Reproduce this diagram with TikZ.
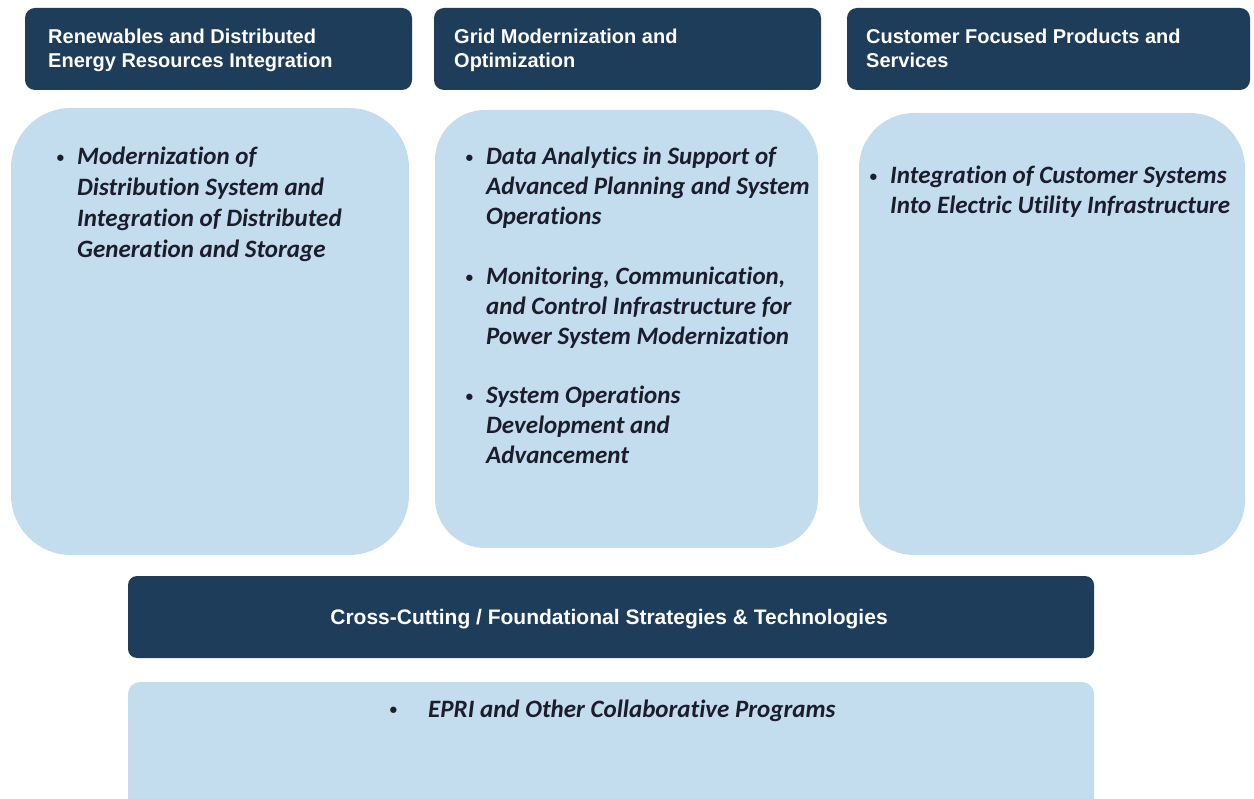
\documentclass[tikz,border=0pt]{standalone}
\usepackage{fontspec}
\setmainfont{Carlito}[Ligatures=NoCommon]
\newfontfamily\hdfont{Liberation Sans}
\definecolor{navy}{HTML}{1E3D5A}
\definecolor{pale}{HTML}{C4DDEE}
\definecolor{ink}{HTML}{1B1D2B}
\tikzset{
  hdrbox/.style={fill=navy, draw=none, rounded corners=10pt, inner sep=0pt},
  palebox/.style={fill=pale, draw=none, inner sep=0pt},
  hdrtext/.style={font=\hdfont\bfseries\fontsize{20}{24}\selectfont, text=white, align=left, inner sep=0pt, anchor=base west},
  itemtext/.style={font=\bfseries\itshape\fontsize{25}{30}\selectfont, text=ink, align=left, inner sep=0pt, anchor=base west},
}
\newcommand{\bdot}{\raisebox{2.5pt}{\fontsize{15}{15}\selectfont\textbullet}}
\newcommand{\bul}{\llap{\bdot\hspace{13pt}}}
\begin{document}
\begin{tikzpicture}[x=1pt,y=-1pt]
\useasboundingbox (0,0) rectangle (1254,799);
\clip (0,0) rectangle (1254,799);
% headers (multi-line nodes are anchored at the baseline of their last line)
\path[hdrbox] (25,8) rectangle (412,90) node[midway] (h1) {};
\path[hdrbox] (434,8) rectangle (821,90) node[midway] (h2) {};
\path[hdrbox] (847,8) rectangle (1250,90) node[midway] (h3) {};
\node[hdrtext] (h1t) at (48,68) {Renewables and Distributed\\Energy Resources Integration};
\node[hdrtext] (h2t) at (454,68) {Grid Modernization and\\Optimization};
\node[hdrtext] (h3t) at (866,68) {Customer Focused Products and\\Services};
% pale boxes
\path[palebox, rounded corners=60pt] (11,108) rectangle (409,555) node[midway] (b1) {};
\path[palebox, rounded corners=50pt] (435,110) rectangle (818,548) node[midway] (b2) {};
\path[palebox, rounded corners=55pt] (859,113) rectangle (1245,555) node[midway] (b3) {};
\node[itemtext, font=\bfseries\itshape\fontsize{25}{31}\selectfont] (i1) at (77,258) {\bul Modernization of\\Distribution System and\\Integration of Distributed\\Generation and Storage};
\node[itemtext] (i2) at (486,225) {\bul Data Analytics in Support of\\Advanced Planning and System\\Operations};
\node[itemtext] (i3) at (486,345) {\bul Monitoring, Communication,\\and Control Infrastructure for\\Power System Modernization};
\node[itemtext] (i4) at (486,464) {\bul System Operations\\Development and\\Advancement};
\node[itemtext] (i5) at (890,214) {\bul Integration of Customer Systems\\Into Electric Utility Infrastructure};
% cross-cutting
\path[hdrbox, rounded corners=9pt] (128,576) rectangle (1094,658) node[midway] (cc) {};
\node[hdrtext, font=\hdfont\bfseries\fontsize{21}{24}\selectfont, anchor=base] (cct) at (609,624) {Cross-Cutting / Foundational Strategies \& Technologies};
\path[palebox, rounded corners=12pt] (128,682) rectangle (1094,830) node[midway] (bb) {};
\node[itemtext] (ep) at (428,717) {\llap{\bdot\hspace{31pt}}EPRI and Other Collaborative Programs};
\end{tikzpicture}
\end{document}
